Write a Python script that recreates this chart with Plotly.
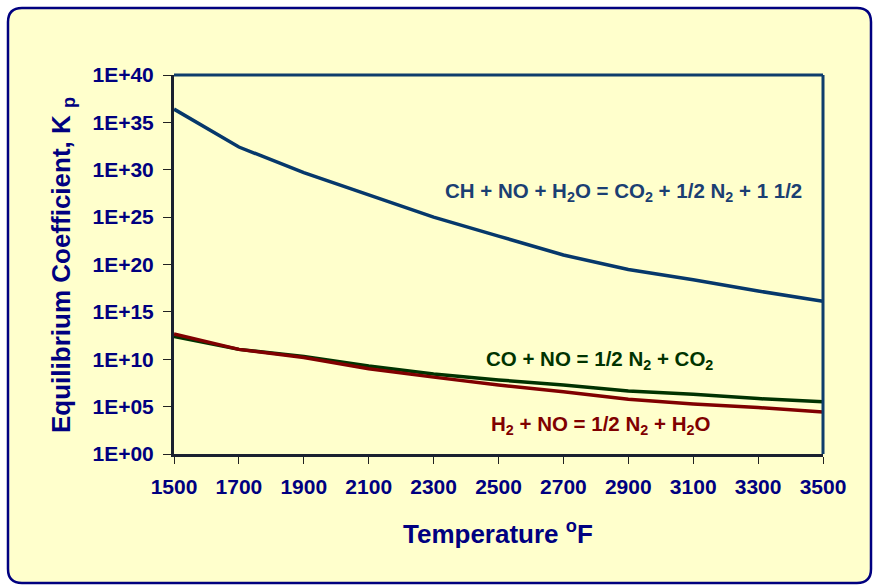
import plotly.graph_objects as go

# ---- data ----
temperature_F = [1500, 1700, 1900, 2100, 2300, 2500, 2700, 2900, 3100, 3300, 3500]
kp_ch_no_h2o = [2.5e36, 2.5e32, 5e29, 2e27, 1e25, 1e23, 1e21, 3e19, 2.5e18, 1.6e17, 1.3e16]
kp_co_no = [2.5e12, 1.1e11, 2.0e10, 1.9e9, 2.8e8, 6.5e7, 1.9e7, 4.5e6, 2.0e6, 7e5, 3.3e5]
kp_h2_no = [4.7e12, 1.1e11, 1.5e10, 1.0e9, 1.3e8, 1.9e7, 3.8e6, 5.9e5, 1.9e5, 8e4, 2.7e4]

x_tick_vals = [1500, 1700, 1900, 2100, 2300, 2500, 2700, 2900, 3100, 3300, 3500]
y_tick_vals = [1e0, 1e5, 1e10, 1e15, 1e20, 1e25, 1e30, 1e35, 1e40]
y_tick_text = ["1E+00", "1E+05", "1E+10", "1E+15", "1E+20", "1E+25", "1E+30", "1E+35", "1E+40"]

label_ch = "CH + NO + H<sub>2</sub>O = CO<sub>2</sub> + 1/2 N<sub>2</sub> + 1 1/2"
label_co = "CO + NO = 1/2 N<sub>2</sub> + CO<sub>2</sub>"
label_h2 = "H<sub>2</sub> + NO = 1/2 N<sub>2</sub> + H<sub>2</sub>O"
x_title = "Temperature <sup>o</sup>F"
y_title = "Equilibrium Coefficient, K <sub>p</sub>"

# ---- layout geometry (pixels) ----
W, H = 873, 585
L, R, T, B = 174, 823, 75, 454
pw, ph = R - L, B - T

def px(x):
    return (x - L) / pw

def py(y):
    return (B - y) / ph

NAVY = "#000080"
FONT = "Liberation Sans, Arial, sans-serif"

fig = go.Figure()
fig.add_trace(go.Scatter(x=temperature_F, y=kp_ch_no_h2o, mode="lines",
                         line=dict(color="#06386B", width=3.5), showlegend=False))
fig.add_trace(go.Scatter(x=temperature_F, y=kp_co_no, mode="lines",
                         line=dict(color="#003300", width=3.5), showlegend=False))
fig.add_trace(go.Scatter(x=temperature_F, y=kp_h2_no, mode="lines",
                         line=dict(color="#800000", width=3.5), showlegend=False))

# outer rounded frame
x0, y0, x1, y1, r = 8, 8, 871, 583, 14
path = (f"M {px(x0+r)},{py(y0)} L {px(x1-r)},{py(y0)} Q {px(x1)},{py(y0)} {px(x1)},{py(y0+r)} "
        f"L {px(x1)},{py(y1-r)} Q {px(x1)},{py(y1)} {px(x1-r)},{py(y1)} "
        f"L {px(x0+r)},{py(y1)} Q {px(x0)},{py(y1)} {px(x0)},{py(y1-r)} "
        f"L {px(x0)},{py(y0+r)} Q {px(x0)},{py(y0)} {px(x0+r)},{py(y0)} Z")

shapes = [
    dict(type="path", path=path, xref="paper", yref="paper", layer="below",
         fillcolor="#FFFFCC", line=dict(color=NAVY, width=2.5)),
    dict(type="line", xref="paper", yref="paper", x0=0, x1=1, y0=1, y1=1,
         line=dict(color="#0E3D6C", width=3), layer="above"),
    dict(type="line", xref="paper", yref="paper", x0=1, x1=1, y0=0, y1=1,
         line=dict(color="#0E3D6C", width=3), layer="above"),
]

annotations = [
    dict(text=label_ch, x=px(623), y=py(192), xref="paper", yref="paper", showarrow=False,
         font=dict(family=FONT, size=20.5, color="#1B3F73", weight="bold"), xanchor="center", yanchor="middle"),
    dict(text=label_co, x=px(599), y=py(360), xref="paper", yref="paper", showarrow=False,
         font=dict(family=FONT, size=20.5, color="#003300", weight="bold"), xanchor="center", yanchor="middle"),
    dict(text=label_h2, x=px(600), y=py(425), xref="paper", yref="paper", showarrow=False,
         font=dict(family=FONT, size=20.5, color="#800000", weight="bold"), xanchor="center", yanchor="middle"),
    dict(text=x_title, x=px(498), y=py(532), xref="paper", yref="paper", showarrow=False,
         font=dict(family=FONT, size=26, color=NAVY, weight="bold"), xanchor="center", yanchor="middle"),
    dict(text=y_title, x=px(62), y=py(265), xref="paper", yref="paper", showarrow=False, textangle=-90,
         font=dict(family=FONT, size=26, color=NAVY, weight="bold"), xanchor="center", yanchor="middle"),
]

tickfont = dict(family=FONT, size=21, color=NAVY, weight="bold")

fig.update_layout(
    width=W, height=H, autosize=False,
    margin=dict(l=L, r=W - R, t=T, b=H - B, pad=0),
    paper_bgcolor="white", plot_bgcolor="rgba(0,0,0,0)",
    shapes=shapes, annotations=annotations,
    xaxis=dict(range=[1500, 3500], tickvals=x_tick_vals, ticks="outside", ticklen=7,
               tickwidth=1.2, tickcolor="#222", showline=True, linecolor="#1A2030", linewidth=3,
               showgrid=False, zeroline=False, tickfont=tickfont, ticklabelstandoff=5),
    xaxis2=dict(range=[1500, 3500], tickvals=x_tick_vals, ticks="inside", ticklen=7,
                tickwidth=1.2, tickcolor="#222", overlaying="x", anchor="y", side="bottom",
                showline=False, showgrid=False, zeroline=False, showticklabels=False),
    yaxis=dict(type="log", range=[0, 40], tickvals=y_tick_vals, ticktext=y_tick_text,
               ticks="outside", ticklen=8, tickwidth=1.2, tickcolor="#222",
               showline=True, linecolor="#1A2030", linewidth=3, showgrid=False, zeroline=False,
               tickfont=tickfont, ticklabelstandoff=5),
    yaxis2=dict(type="log", range=[0, 40], tickvals=y_tick_vals, ticks="inside", ticklen=8,
                tickwidth=1.2, tickcolor="#222", overlaying="y", anchor="x", side="left",
                showline=False, showgrid=False, zeroline=False, showticklabels=False),
)

fig.write_html("out.html", config={"displayModeBar": False},
               post_script="document.body.style.margin='0';document.body.style.overflow='hidden';")
